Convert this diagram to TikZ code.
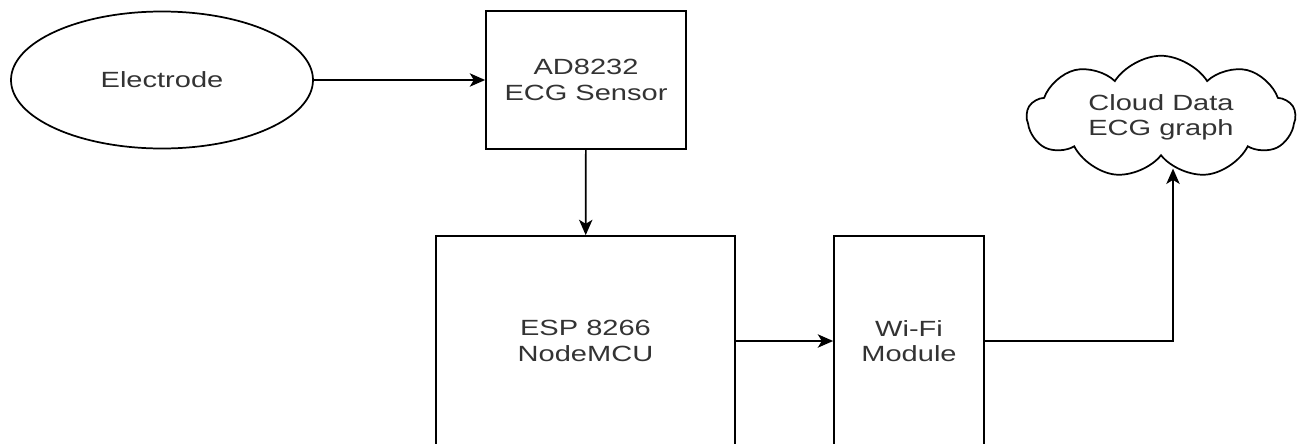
\documentclass[tikz,border=0pt]{standalone}
\usepackage{fontspec}
\setmainfont[FakeStretch=1.32]{Liberation Sans}
\usepackage{tikz}
\usetikzlibrary{arrows.meta,shapes.geometric,shapes.symbols}
\definecolor{textgray}{HTML}{333333}

\begin{document}
\begin{tikzpicture}[
  x=0.75pt, y=-0.75pt,
  box/.style={draw,line width=1.3pt,align=center,inner sep=0pt,text=textgray,
    font=\fontsize{16.5}{19}\selectfont},
  arrow/.style={-{Stealth[length=11.5pt,width=10pt,inset=3pt]},line width=1.3pt}
]
\useasboundingbox (0,0) rectangle (1299,443);
\node[box,ellipse,minimum width=226.5pt,minimum height=102.75pt] (elec) at (162,80) {Electrode};
\node[box,minimum width=150pt,minimum height=103.5pt] (sensor) at (586,80) {AD8232\\ECG Sensor};
\node[box,minimum width=224.25pt,minimum height=157.5pt] (esp) at (585.5,341) {ESP 8266\\NodeMCU};
\node[box,minimum width=112.5pt,minimum height=157.5pt] (wifi) at (909,341) {Wi-Fi\\Module};
\node[box,cloud,cloud puffs=9,cloud puff arc=115,aspect=2.3,
  minimum width=201pt,minimum height=86pt] (cloud) at (1161,117) {Cloud Data\\ECG graph};
\draw[arrow] (elec) -- (sensor);
\draw[arrow] (sensor) -- (esp);
\draw[arrow] (esp.east |- wifi.west) -- (wifi.west);
\draw[arrow] (wifi.east) -| ([xshift=9pt,yshift=-9pt]cloud.south);
\end{tikzpicture}
\end{document}
